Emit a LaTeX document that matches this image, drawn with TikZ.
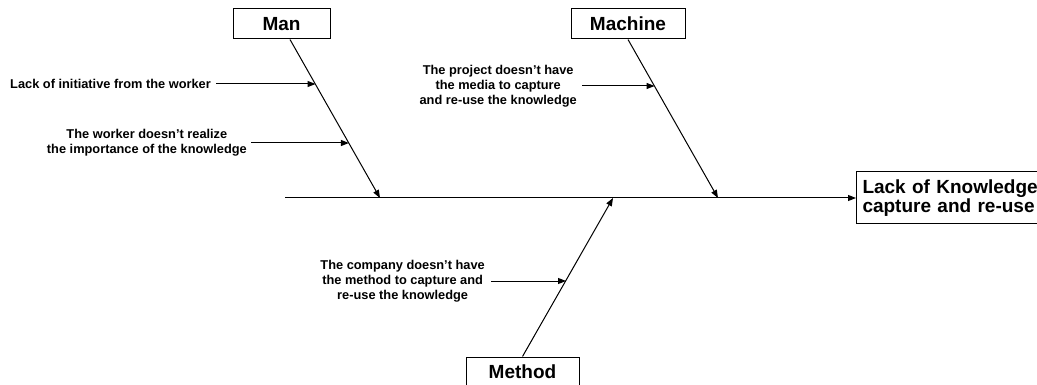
\documentclass[tikz,border=0pt]{standalone}
\usepackage{fontspec}
\setmainfont{Liberation Sans}
\usetikzlibrary{arrows.meta,calc}
\begin{document}
\begin{tikzpicture}[x=1pt,y=-1pt,
  bone/.style={line width=1pt,-{Triangle[length=8pt,width=6pt]}},
  catbox/.style={draw,line width=1pt,font=\fontsize{19}{19.5}\selectfont\bfseries,
    minimum height=30pt,inner sep=0pt},
  causetext/.style={font=\fontsize{12.8}{14.8}\selectfont\bfseries,align=center,
    inner sep=0pt,anchor=east}]
\useasboundingbox (0,0) rectangle (1037,385);
\clip (0,0) rectangle (1037,385);

% category boxes and the effect
\node[catbox,minimum width=97pt] (man) at (281.5,24) {Man};
\node[catbox,minimum width=114pt] (machine) at (628,24) {Machine};
\node[catbox,minimum width=113pt] (method) at (522.5,372) {Method};
\node[catbox,anchor=west,align=left,text width=200pt,inner xsep=6pt,
  minimum height=52pt] (effect) at (856,198) {Lack of Knowledge\\capture and re-use};

% spine
\coordinate (tail) at (285,198);
\draw[bone] (tail) -- (effect.west);

% points where the main bones meet the spine
\coordinate (jMan) at (380,198);
\coordinate (jMachine) at (718,198);
\coordinate (jMethod) at (613,198);
\coordinate (manFoot) at ($(man.south)+(8.5,0)$);

\draw[bone] (manFoot) -- (jMan);
\draw[bone] (machine.south) -- (jMachine);
\draw[bone] (method.north) -- (jMethod);

% causes
\node[causetext] (c1) at (211,84) {Lack of initiative from the worker};
\node[causetext] (c2) at (247,143) {The worker doesn’t realize\\the importance of the knowledge};
\node[causetext] (c3) at (577,86) {The project doesn’t have\\the media to capture\\and re-use the knowledge};
\node[causetext] (c4) at (485,281) {The company doesn’t have\\the method to capture and\\re-use the knowledge};

% where each cause arrow meets its bone
\coordinate (b1) at (315.5,84);
\coordinate (b2) at (348.9,143);
\coordinate (b3) at (654.6,86);
\coordinate (b4) at (566,281);

\draw[bone] ([xshift=5pt]c1.east) -- (b1);
\draw[bone] ([xshift=4pt]c2.east) -- (b2);
\draw[bone] ([xshift=5pt]c3.east) -- (b3);
\draw[bone] ([xshift=6pt]c4.east) -- (b4);
\end{tikzpicture}
\end{document}
